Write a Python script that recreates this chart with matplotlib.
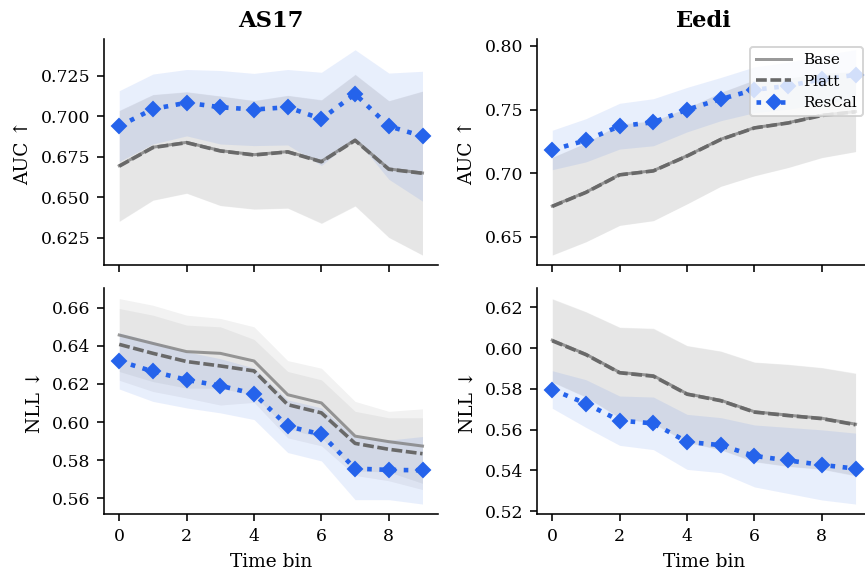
import numpy as np
import matplotlib
matplotlib.use("Agg")
import matplotlib.pyplot as plt

# ---- data (mean and half-width of the band) ----
bins = np.arange(10)

# AS17 - AUC
as17_auc_base = [0.6696, 0.6810, 0.6840, 0.6789, 0.6764, 0.6783, 0.6723, 0.6855, 0.6676, 0.6651]
as17_auc_base_sd = [0.0342, 0.0326, 0.0313, 0.0338, 0.0335, 0.0348, 0.0381, 0.0406, 0.0422, 0.0506]
as17_auc_platt = [0.6693, 0.6808, 0.6838, 0.6787, 0.6762, 0.6781, 0.6720, 0.6852, 0.6674, 0.6649]
as17_auc_platt_sd = [0.0342, 0.0326, 0.0313, 0.0338, 0.0335, 0.0348, 0.0381, 0.0406, 0.0422, 0.0506]
as17_auc_rescal = [0.6940, 0.7046, 0.7085, 0.7057, 0.7043, 0.7057, 0.6985, 0.7139, 0.6940, 0.6878]
as17_auc_rescal_sd = [0.0219, 0.0216, 0.0205, 0.0227, 0.0223, 0.0233, 0.0288, 0.0273, 0.0328, 0.0401]

# Eedi - AUC
eedi_auc_base = [0.6741, 0.6850, 0.6988, 0.7019, 0.7136, 0.7266, 0.7357, 0.7396, 0.7455, 0.7484]
eedi_auc_base_sd = [0.0384, 0.0389, 0.0398, 0.0392, 0.0377, 0.0369, 0.0377, 0.0351, 0.0332, 0.0314]
eedi_auc_platt = [0.6738, 0.6848, 0.6986, 0.7017, 0.7134, 0.7264, 0.7355, 0.7394, 0.7453, 0.7482]
eedi_auc_platt_sd = [0.0384, 0.0389, 0.0398, 0.0392, 0.0377, 0.0369, 0.0377, 0.0351, 0.0332, 0.0314]
eedi_auc_rescal = [0.7182, 0.7258, 0.7369, 0.7400, 0.7499, 0.7582, 0.7655, 0.7686, 0.7738, 0.7772]
eedi_auc_rescal_sd = [0.0155, 0.0170, 0.0180, 0.0185, 0.0175, 0.0170, 0.0180, 0.0185, 0.0190, 0.0198]

# AS17 - NLL
as17_nll_base = [0.6456, 0.6412, 0.6369, 0.6360, 0.6320, 0.6143, 0.6100, 0.5926, 0.5897, 0.5874]
as17_nll_base_sd = [0.0191, 0.0200, 0.0191, 0.0183, 0.0179, 0.0179, 0.0182, 0.0182, 0.0159, 0.0195]
as17_nll_platt = [0.6407, 0.6360, 0.6317, 0.6294, 0.6268, 0.6091, 0.6048, 0.5888, 0.5857, 0.5834]
as17_nll_platt_sd = [0.0188, 0.0200, 0.0191, 0.0205, 0.0165, 0.0174, 0.0173, 0.0168, 0.0165, 0.0188]
as17_nll_rescal = [0.6320, 0.6265, 0.6221, 0.6190, 0.6148, 0.5978, 0.5935, 0.5756, 0.5749, 0.5747]
as17_nll_rescal_sd = [0.0147, 0.0157, 0.0147, 0.0142, 0.0135, 0.0138, 0.0139, 0.0163, 0.0156, 0.0177]

# Eedi - NLL
eedi_nll_base = [0.6039, 0.5970, 0.5881, 0.5865, 0.5776, 0.5744, 0.5688, 0.5671, 0.5656, 0.5627]
eedi_nll_base_sd = [0.0204, 0.0209, 0.0222, 0.0233, 0.0237, 0.0242, 0.0244, 0.0250, 0.0249, 0.0251]
eedi_nll_platt = [0.6036, 0.5968, 0.5879, 0.5862, 0.5774, 0.5742, 0.5686, 0.5669, 0.5654, 0.5624]
eedi_nll_platt_sd = [0.0204, 0.0209, 0.0222, 0.0233, 0.0237, 0.0242, 0.0244, 0.0250, 0.0249, 0.0251]
eedi_nll_rescal = [0.5797, 0.5728, 0.5644, 0.5631, 0.5540, 0.5524, 0.5471, 0.5449, 0.5427, 0.5409]
eedi_nll_rescal_sd = [0.0092, 0.0117, 0.0121, 0.0129, 0.0135, 0.0135, 0.0152, 0.0162, 0.0172, 0.0174]

datasets = ["AS17", "Eedi"]
metrics = ["AUC \u2191", "NLL \u2193"]

BLUE = "#2563EB"

plt.rcParams["font.family"] = ["DejaVu Serif", "DejaVu Sans"]
plt.rcParams["font.size"] = 9
plt.rcParams["xtick.labelsize"] = 8.6
plt.rcParams["ytick.labelsize"] = 8.6
plt.rcParams["axes.labelsize"] = 9.3


def panel(ax, base, base_sd, platt, platt_sd, rescal, rescal_sd):
    base, base_sd = np.array(base), np.array(base_sd)
    platt, platt_sd = np.array(platt), np.array(platt_sd)
    rescal, rescal_sd = np.array(rescal), np.array(rescal_sd)
    ax.fill_between(bins, base - base_sd, base + base_sd, color="gray", alpha=0.1, lw=0)
    ax.fill_between(bins, platt - platt_sd, platt + platt_sd, color="gray", alpha=0.1, lw=0)
    ax.fill_between(bins, rescal - rescal_sd, rescal + rescal_sd, color=BLUE, alpha=0.1, lw=0)
    ax.plot(bins, base, color="gray", lw=1.5, alpha=0.8, label="Base")
    ax.plot(bins, platt, color="dimgray", lw=1.8, dashes=(3, 1), label="Platt")
    ax.plot(bins, rescal, color=BLUE, lw=2.3, ls=":", marker="D", ms=4.6, label="ResCal")
    ax.spines["top"].set_visible(False)
    ax.spines["right"].set_visible(False)


fig, axes = plt.subplots(2, 2, figsize=(865 / 144, 579 / 144), dpi=144, sharex="col")
fig.subplots_adjust(left=0.1203, right=1.0066, bottom=0.1117, top=0.9318,
                    wspace=0.298, hspace=0.101)

panel(axes[0, 0], as17_auc_base, as17_auc_base_sd, as17_auc_platt, as17_auc_platt_sd,
      as17_auc_rescal, as17_auc_rescal_sd)
panel(axes[0, 1], eedi_auc_base, eedi_auc_base_sd, eedi_auc_platt, eedi_auc_platt_sd,
      eedi_auc_rescal, eedi_auc_rescal_sd)
panel(axes[1, 0], as17_nll_base, as17_nll_base_sd, as17_nll_platt, as17_nll_platt_sd,
      as17_nll_rescal, as17_nll_rescal_sd)
panel(axes[1, 1], eedi_nll_base, eedi_nll_base_sd, eedi_nll_platt, eedi_nll_platt_sd,
      eedi_nll_rescal, eedi_nll_rescal_sd)

for j, name in enumerate(datasets):
    axes[0, j].set_title(name, fontweight="bold", fontsize=11.3)
    axes[1, j].set_xlabel("Time bin")
    axes[1, j].set_xticks([0, 2, 4, 6, 8])
    for i, m in enumerate(metrics):
        axes[i, j].set_ylabel(m)

axes[0, 1].legend(loc="upper right", fontsize=7.6, handlelength=2.3)

plt.savefig("out.png", dpi=144)
